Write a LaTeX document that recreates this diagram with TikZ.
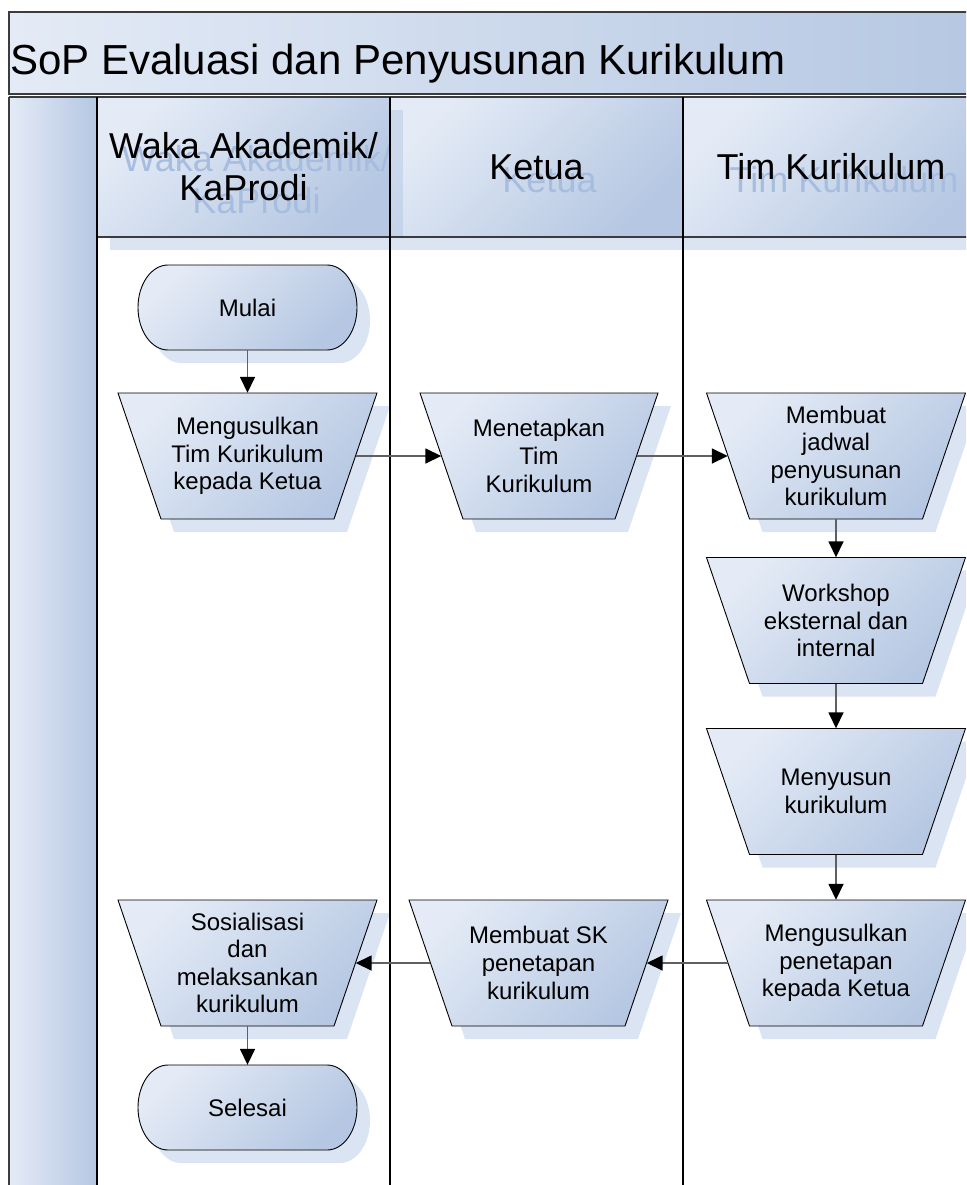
\documentclass[tikz,border=0pt]{standalone}
\usepackage{fontspec}
\setmainfont{Liberation Sans}
\usetikzlibrary{arrows.meta}

\definecolor{gradlight}{RGB}{228,235,246}
\definecolor{graddark}{RGB}{181,199,226}
\definecolor{shadowblue}{RGB}{219,228,242}
\definecolor{shadowdeep}{RGB}{175,195,226}
\definecolor{ghostblue}{RGB}{166,189,224}
\definecolor{linkgray}{RGB}{96,96,96}
\definecolor{framegray}{RGB}{60,60,60}

% rounded start/end symbol around centre (#1,#2), 219 x 85, elliptic ends
\newcommand{\terminatorpath}[2]{(#1+79.5,#2-42.5) arc[start angle=-90,end angle=90,x radius=30,y radius=42.5] -- (#1-79.5,#2+42.5) arc[start angle=90,end angle=270,x radius=30,y radius=42.5] -- cycle}

% manual-operation symbol around centre (#1,#2), top width #3, height 126, slant 43
\newcommand{\trappath}[3]{(#1-#3/2,#2-63) -- (#1+#3/2,#2-63) -- (#1+#3/2-43,#2+63) -- (#1-#3/2+43,#2+63) -- cycle}

\newcommand{\terminal}[4]{%
  \fill[shadowblue,xshift=13pt,yshift=-13pt] \terminatorpath{#2}{#3};
  \shadedraw[gradfill,draw=black,line width=0.9pt] \terminatorpath{#2}{#3};
  \node[termtext] (#1) at (#2,#3) {#4};
}

% the text node spans the mid-height width, so connectors meet the slanted sides
\newcommand{\procstep}[5]{%
  \fill[shadowblue,xshift=13pt,yshift=-13pt] \trappath{#2}{#3}{#4};
  \shadedraw[gradfill,draw=black,line width=0.9pt] \trappath{#2}{#3}{#4};
  \node[steptext,minimum width=#4pt-43pt] (#1) at (#2,#3) {#5};
}

\tikzset{
  gradfill/.style={top color=gradlight,bottom color=graddark,shading angle=45},
  steptext/.style={rectangle,minimum height=126pt,inner sep=0pt,align=center,
    font=\fontsize{24}{27.6}\selectfont},
  termtext/.style={rectangle,minimum width=219pt,minimum height=85pt,inner sep=0pt,
    font=\fontsize{24}{27.6}\selectfont},
  flow/.style={draw=linkgray,line width=1.6pt,-{Triangle[length=16pt,width=15pt,color=black]}},
  headtext/.style={font=\fontsize{36}{42}\selectfont,align=center,inner sep=0pt},
  frame/.style={draw=framegray,line width=1.3pt},
}

\begin{document}
\begin{tikzpicture}[x=1pt,y=-1pt]
\clip (0,0) rectangle (966,1185);

% title bar
\shade[left color=gradlight,right color=graddark] (9,12) rectangle (990,94);
\draw[frame] (990,12) -- (9,12) -- (9,94) -- (990,94);
\node[anchor=base west,inner sep=0pt,font=\fontsize{42}{50}\selectfont] (title) at (10,75)
  {SoP Evaluasi dan Penyusunan Kurikulum};

% left strip of the pool
\shade[left color=gradlight,right color=graddark] (9,97) rectangle (97,1200);

% lane headers with their shadows
\fill[shadowblue] (403,110) rectangle (696,250);
\shade[gradfill] (390,97) rectangle (683,237);
\fill[shadowblue] (696,110) rectangle (990,250);
\shade[gradfill] (683,97) rectangle (990,237);
\fill[shadowdeep,opacity=0.45] (110,110) rectangle (403,250);
\shade[gradfill] (97,97) rectangle (390,237);

\node[headtext,text=ghostblue] (laneAghost) at (256.5,180) {Waka Akademik/\\KaProdi};
\node[headtext] (laneA) at (243.5,167) {Waka Akademik/\\KaProdi};
\node[headtext,text=ghostblue] (laneBghost) at (549.5,180) {Ketua};
\node[headtext] (laneB) at (536.5,167) {Ketua};
\node[headtext,text=ghostblue] (laneCghost) at (844,180) {Tim Kurikulum};
\node[headtext] (laneC) at (831,167) {Tim Kurikulum};

% flow steps
\terminal{mulai}{247.5}{307.5}{Mulai}
\procstep{usulTim}{247.5}{456}{259}{Mengusulkan\\Tim Kurikulum\\kepada Ketua}
\procstep{tetapTim}{539}{456}{238}{Menetapkan\\Tim\\Kurikulum}
\procstep{jadwal}{836}{456}{259}{Membuat\\jadwal\\penyusunan\\kurikulum}
\procstep{workshop}{836}{620.5}{259}{Workshop\\eksternal dan\\internal}
\procstep{susun}{836}{791.5}{259}{Menyusun\\kurikulum}
\procstep{usulTetap}{836}{963}{259}{Mengusulkan\\penetapan\\kepada Ketua}
\procstep{buatSK}{538.5}{963}{259}{Membuat SK\\penetapan\\kurikulum}
\procstep{sosialisasi}{247.5}{963}{259}{Sosialisasi\\dan\\melaksankan\\kurikulum}
\terminal{selesai}{247.5}{1107.5}{Selesai}

% pool rules and lane separators
\draw[frame] (9,97) -- (990,97);
\draw[frame] (9,97) -- (9,1200);
\draw[frame] (97,237) -- (990,237);
\draw[black,line width=1.3pt] (97,97) -- (97,1200);
\draw[black,line width=1.3pt] (390,97) -- (390,1200);
\draw[black,line width=1.3pt] (683,97) -- (683,1200);

% connectors
\draw[flow] (mulai) -- (usulTim);
\draw[flow] (usulTim) -- (tetapTim);
\draw[flow] (tetapTim) -- (jadwal);
\draw[flow] (jadwal) -- (workshop);
\draw[flow] (workshop) -- (susun);
\draw[flow] (susun) -- (usulTetap);
\draw[flow] (usulTetap) -- (buatSK);
\draw[flow] (buatSK) -- (sosialisasi);
\draw[flow] (sosialisasi) -- (selesai);
\end{tikzpicture}
\end{document}
